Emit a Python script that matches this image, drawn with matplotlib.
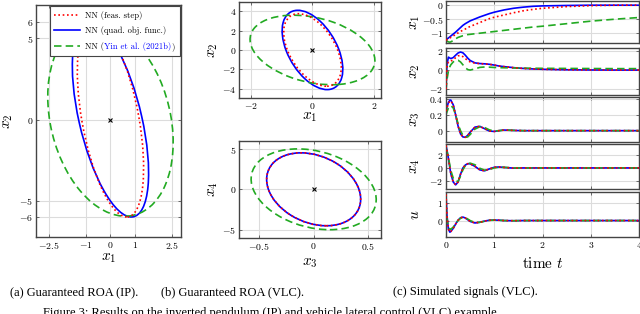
import matplotlib
matplotlib.use('Agg')
import matplotlib.pyplot as plt
from matplotlib.patches import Ellipse
from matplotlib.lines import Line2D
from matplotlib.offsetbox import TextArea, HPacker

plt.rcParams['mathtext.fontset'] = 'cm'
plt.rcParams['font.family'] = 'serif'
plt.rcParams['font.serif'] = ['Liberation Serif', 'DejaVu Serif']

# methods: feasibility step, quadratic objective, Yin et al.
labels = ['NN (feas. step)', 'NN (quad. obj. func.)', 'NN (Yin et al. (2021b))']
colors = ['#ff0000', '#0000ff', '#22aa22']
styles = [(0, (1, 1.6)), '-', (0, (4.5, 2.5))]
zorders = [3, 2, 2.5]

# ROA ellipses around the origin: (width, height, angle in deg)
roa_ip = [(2.33, 12.08, 6.6), (2.57, 12.12, 8.45), (4.93, 11.97, 6.94)]
roa_vlc_12 = [(1.62, 7.56, 7.2), (1.71, 8.26, 6.9), (3.78, 7.34, 13.2)]
roa_vlc_34 = [(0.828, 9.06, 1.48), (0.828, 9.06, 1.48), (1.106, 10.04, 1.69)]
equilibrium = (0, 0)

# simulated signals (VLC)
t = [0, 0.02, 0.05, 0.08, 0.1, 0.15, 0.2, 0.25, 0.3, 0.35, 0.4, 0.45, 0.5, 0.6,
     0.7, 0.8, 0.9, 1.0, 1.1, 1.2, 1.4, 1.6, 1.8, 2.0, 2.5, 3.0, 3.5, 4.0]

x1_feas = [-1.25, -1.23, -1.20, -1.17, -1.15, -1.10, -1.04, -0.99, -0.94, -0.89, -0.85, -0.80, -0.76, -0.69,
           -0.62, -0.55, -0.48, -0.43, -0.39, -0.35, -0.27, -0.20, -0.15, -0.11, -0.05, -0.015, 0, 0]
x1_quad = [-1.24, -1.21, -1.17, -1.13, -1.10, -1.03, -0.96, -0.88, -0.80, -0.72, -0.66, -0.61, -0.56, -0.49,
           -0.42, -0.36, -0.30, -0.25, -0.21, -0.17, -0.11, -0.07, -0.04, -0.025, -0.01, 0, 0, 0]
x1_yin = [-1.25, -1.28, -1.31, -1.32, -1.31, -1.26, -1.20, -1.15, -1.12, -1.09, -1.07, -1.05, -1.04, -1.02,
          -1.00, -0.98, -0.96, -0.94, -0.92, -0.90, -0.86, -0.82, -0.78, -0.75, -0.66, -0.57, -0.50, -0.44]

x2_feas = [-2.0, 0.3, 0.85, 0.95, 0.95, 1.05, 1.3, 1.48, 1.52, 1.4, 1.2, 1.0, 0.85, 0.72,
           0.67, 0.64, 0.6, 0.52, 0.42, 0.36, 0.25, 0.17, 0.12, 0.08, 0.03, 0.01, 0, 0]
x2_quad = [-1.9, 0.6, 1.35, 1.25, 1.2, 1.3, 1.55, 1.78, 1.88, 1.8, 1.55, 1.25, 1.0, 0.75,
           0.68, 0.65, 0.6, 0.52, 0.42, 0.36, 0.25, 0.17, 0.12, 0.08, 0.03, 0.01, 0, 0]
x2_yin = [-2.1, -1.0, -0.1, 0.35, 0.55, 0.85, 1.0, 1.02, 0.85, 0.55, 0.25, 0.05, 0.0, 0.12,
          0.28, 0.32, 0.3, 0.27, 0.25, 0.24, 0.22, 0.2, 0.19, 0.18, 0.17, 0.16, 0.15, 0.15]

x3_feas = [0.25, 0.29, 0.35, 0.38, 0.38, 0.33, 0.2, 0.06, -0.04, -0.08, -0.085, -0.06, -0.02, 0.045,
           0.055, 0.025, -0.005, -0.01, 0.0, 0.008, 0.003, 0, 0, 0, 0, 0, 0, 0]
x3_quad = [0.25, 0.3, 0.36, 0.39, 0.39, 0.33, 0.2, 0.06, -0.04, -0.08, -0.085, -0.06, -0.02, 0.045,
           0.055, 0.025, -0.005, -0.01, 0.0, 0.008, 0.003, 0, 0, 0, 0, 0, 0, 0]
x3_yin = [0.2, 0.24, 0.29, 0.31, 0.32, 0.29, 0.2, 0.09, 0.0, -0.06, -0.085, -0.08, -0.05, 0.02,
          0.05, 0.04, 0.01, -0.005, 0, 0.008, 0.004, 0, 0, 0, 0, 0, 0, 0]

x4_feas = [3.5, 2.8, 1.5, 0.0, -0.9, -2.2, -2.65, -2.2, -1.0, 0.0, 0.45, 0.66, 0.65, 0.25,
           -0.3, -0.45, -0.15, 0.1, 0.15, 0.08, -0.03, 0, 0, 0, 0, 0, 0, 0]
x4_quad = [3.5, 2.8, 1.5, 0.0, -0.9, -2.2, -2.65, -2.2, -1.0, 0.0, 0.45, 0.66, 0.65, 0.25,
           -0.3, -0.45, -0.15, 0.1, 0.15, 0.08, -0.03, 0, 0, 0, 0, 0, 0, 0]
x4_yin = [3.0, 2.6, 1.6, 0.4, -0.4, -1.6, -2.1, -2.1, -1.3, -0.3, 0.35, 0.65, 0.75, 0.5,
          -0.05, -0.35, -0.25, 0.0, 0.12, 0.1, 0.0, 0, 0, 0, 0, 0, 0, 0]

u_feas = [1.5, 0.3, -0.5, -0.67, -0.63, -0.45, -0.2, 0.02, 0.16, 0.2, 0.15, 0.05, -0.05, -0.14,
          -0.1, -0.03, 0.02, 0.03, 0.02, 0.0, -0.01, 0, 0, 0, 0, 0, 0, 0]
u_quad = [1.5, 0.3, -0.5, -0.67, -0.63, -0.45, -0.2, 0.02, 0.16, 0.2, 0.15, 0.05, -0.05, -0.14,
          -0.1, -0.03, 0.02, 0.03, 0.02, 0.0, -0.01, 0, 0, 0, 0, 0, 0, 0]
u_yin = [0.9, 0.1, -0.35, -0.5, -0.5, -0.38, -0.17, 0.0, 0.13, 0.19, 0.17, 0.09, 0.0, -0.11,
         -0.1, -0.04, 0.01, 0.03, 0.02, 0.0, -0.01, 0, 0, 0, 0, 0, 0, 0]

signals = [
    ('$x_1$', [x1_feas, x1_quad, x1_yin], [-1, -0.5, 0], (-1.35, 0.15)),
    ('$x_2$', [x2_feas, x2_quad, x2_yin], [-2, 0, 2], (-2.6, 2.3)),
    ('$x_3$', [x3_feas, x3_quad, x3_yin], [0, 0.2, 0.4], (-0.145, 0.43)),
    ('$x_4$', [x4_feas, x4_quad, x4_yin], [-2, 0, 2], (-3.3, 3.75)),
    ('$u$', [u_feas, u_quad, u_yin], [0, 1], (-0.95, 1.65)),
]
time_ticks = [0, 1, 2, 3, 4]

W, H = 640, 314
fig = plt.figure(figsize=(W / 100, H / 100), dpi=100)


def rect(left, top, right, bottom):
    return [left / W, 1 - bottom / H, (right - left) / W, (bottom - top) / H]


def tick_text(vals):
    return ['$%g$' % v for v in vals]


def style(ax):
    ax.grid(True, color='#dcdcdc', lw=0.8)
    ax.set_axisbelow(True)
    ax.tick_params(direction='in', top=True, right=True, length=2.5, width=0.6,
                   color='#555555', labelsize=7, pad=2)
    for s in ax.spines.values():
        s.set_color('#444444')
        s.set_linewidth(1.0)


def roa_axes(box, params, xt, yt, xlim, ylim, xl, yl, xlab_y, ylab_x):
    ax = fig.add_axes(box)
    for (w, h, a), c, ls, z in zip(params, colors, styles, zorders):
        ax.add_patch(Ellipse(equilibrium, w, h, angle=a, fill=False, ec=c, ls=ls, lw=1.2, zorder=z))
    ax.plot(*equilibrium, 'x', color='black', ms=3.5, mew=0.8)
    ax.set_xticks(xt, tick_text(xt))
    ax.set_yticks(yt, tick_text(yt))
    ax.set_xlim(xlim)
    ax.set_ylim(ylim)
    style(ax)
    ax.set_xlabel(xl, fontsize=11)
    ax.set_ylabel(yl, fontsize=11)
    ax.xaxis.set_label_coords(0.5, xlab_y)
    ax.yaxis.set_label_coords(ylab_x, 0.5)
    ax.xaxis.label.set_va('center')
    ax.yaxis.label.set_va('center')
    return ax


# (a) inverted pendulum
ax_a = roa_axes(rect(36, 5, 181, 237), roa_ip, [-2.5, -1, 0, 1, 2.5], [-6, -5, 0, 5, 6],
                (-3.03, 2.87), (-7.23, 7.05), '$x_1$', '$x_2$', -0.09, -0.19)
handles = [Line2D([], [], color=c, ls=ls, lw=1.2) for c, ls in zip(colors, styles)]
leg_font = dict(family='cmr10', size=6.2)
leg = ax_a.legend(handles, labels, loc='upper right', bbox_to_anchor=(1, 1),
                  borderaxespad=0.15, prop=leg_font, handlelength=3.0,
                  handletextpad=0.6, fancybox=False, framealpha=1,
                  edgecolor='#444444', borderpad=0.55, labelspacing=0.75)
leg.get_frame().set_linewidth(0.8)

# colour the citation in the last legend entry like a link
target = leg.get_texts()[2]
for column in leg._legend_handle_box.get_children():
    for row in column.get_children():
        kids = row.get_children()
        if len(kids) == 2 and getattr(kids[1], '_text', None) is target:
            parts = [('NN (', 'black'), ('Yin et al. (2021b)', '#0000ff'), (')', 'black')]
            pieces = [TextArea(s, textprops=dict(color=c, **leg_font)) for s, c in parts]
            new = HPacker(children=pieces, align='baseline', pad=0, sep=0)
            new.set_figure(fig)
            kids[1] = new

# (b) vehicle lateral control
roa_axes(rect(239, 2, 381, 98), roa_vlc_12, [-2, 0, 2], [-4, -2, 0, 2, 4],
         (-2.38, 2.22), (-4.97, 4.96), '$x_1$', '$x_2$', -0.2, -0.18)
roa_axes(rect(239, 141, 381, 238), roa_vlc_34, [-0.5, 0, 0.5], [-5, 0, 5],
         (-0.683, 0.616), (-6.05, 6.0), '$x_3$', '$x_4$', -0.26, -0.18)

# (c) simulated signals
rows = [(1, 43), (48, 95), (97, 142), (144, 189), (192, 237)]
axes_c = []
for (top, bottom), (name, series, yt, ylim) in zip(rows, signals):
    ax = fig.add_axes(rect(446, top, 639, bottom), sharex=axes_c[0] if axes_c else None)
    for y, c, ls, z in zip(series, colors, styles, zorders):
        ax.plot(t, y, color=c, ls=ls, lw=1.2, zorder=z)
    ax.set_yticks(yt, tick_text(yt))
    ax.set_ylim(ylim)
    ax.set_xlim(0, 4)
    style(ax)
    ax.set_ylabel(name, fontsize=11)
    ax.yaxis.set_label_coords(-0.16, 0.5)
    ax.yaxis.label.set_va('center')
    axes_c.append(ax)
for ax in axes_c[:-1]:
    ax.tick_params(labelbottom=False)
axes_c[-1].set_xticks(time_ticks, tick_text(time_ticks))
axes_c[-1].set_xlabel(r'$\mathrm{time}\ t$', fontsize=11)
axes_c[-1].xaxis.set_label_coords(0.5, -0.58)
axes_c[-1].xaxis.label.set_va('center')

# captions
cap = dict(ha='center', va='center', fontsize=9)
fig.text(74 / W, 1 - 292 / H, '(a) Guaranteed ROA (IP).', **cap)
fig.text(233 / W, 1 - 292 / H, '(b) Guaranteed ROA (VLC).', **cap)
fig.text(465 / W, 1 - 292 / H, '(c) Simulated signals (VLC).', **cap)
fig.text(43 / W, 1 - 307 / H,
         'Figure 3: Results on the inverted pendulum (IP) and vehicle lateral control (VLC) example',
         ha='left', va='top', fontsize=9)

fig.savefig('out.png', dpi=100)
